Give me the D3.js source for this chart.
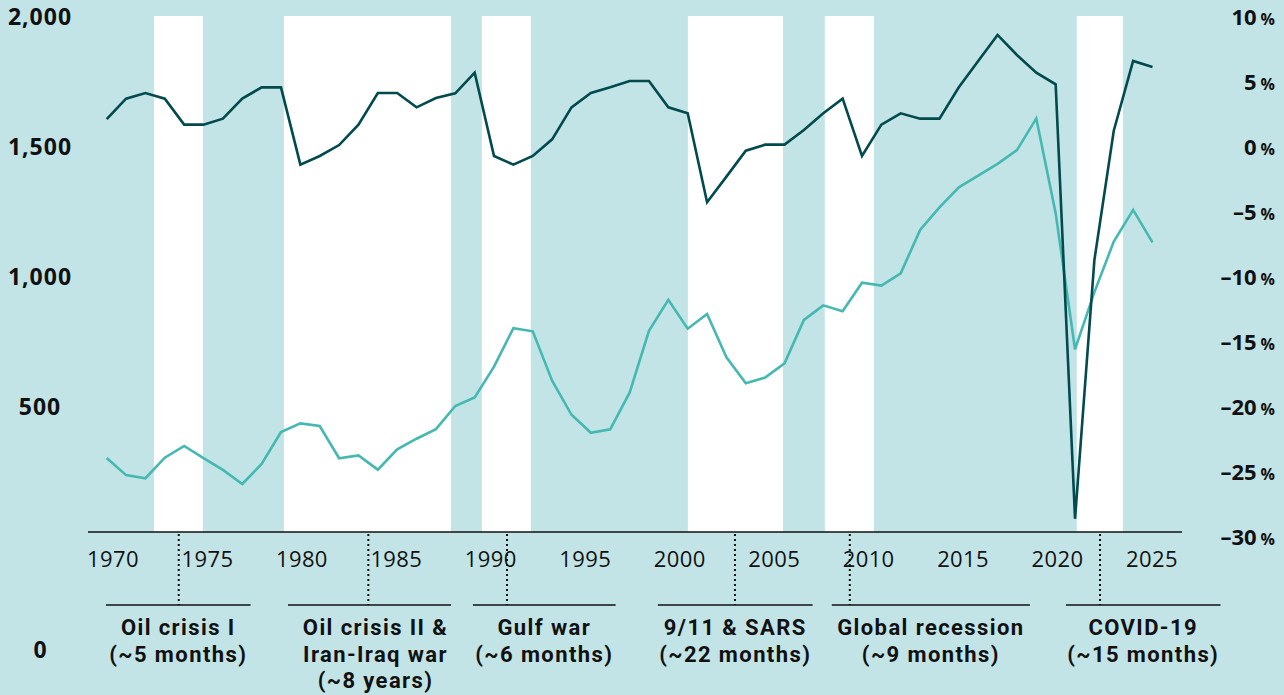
<!DOCTYPE html>
<html>
<head>
<meta charset="utf-8">
<script src="https://cdn.jsdelivr.net/npm/d3@7/dist/d3.min.js"></script>
<style>
  html, body { margin: 0; padding: 0; background: #c3e4e6; }
  svg { display: block; }
  text { font-family: "Open Sans", Lato, sans-serif; fill: #111; }
  text.event { font-family: Roboto, "Open Sans", sans-serif; }
</style>
</head>
<body>
<svg id="chart" width="1284" height="695"></svg>
<script>
// ---------- DATA ----------
const years = d3.range(1970, 2025);

// Growth rate (%), right axis – dark line
const growth = [
  2.15, 3.72, 4.15, 3.72, 1.72, 1.72, 2.18, 3.72, 4.59, 4.59,
  -1.36, -0.69, 0.15, 1.72, 4.15, 4.15, 3.05, 3.77, 4.13, 5.72,
  -0.69, -1.36, -0.69, 0.59, 3.05, 4.15, 4.59, 5.08, 5.08, 3.05,
  2.59, -4.25, -2.28, -0.28, 0.18, 0.18, 1.31, 2.59, 3.72, -0.69,
  1.72, 2.59, 2.18, 2.18, 4.59, 6.62, 8.62, 7.08, 5.72, 4.82,
  -28.6, -8.69, 1.25, 6.62, 6.15
];

// Level, left axis – light line
const level = [
  304, 238, 226, 305, 350, 303, 258, 204, 281, 404,
  437, 427, 303, 314, 259, 337, 378, 415, 504, 537,
  655, 803, 791, 601, 470, 401, 414, 555, 793, 912,
  801, 858, 691, 591, 613, 668, 835, 891, 868, 978,
  967, 1014, 1181, 1268, 1345, 1390, 1435, 1488, 1610, 1245,
  722, 942, 1136, 1258, 1133
];

// Tick labels
const xTickLabels = ["1970", "1975", "1980", "1985", "1990", "1995", "2000", "2005", "2010", "2015", "2020", "2025"];
const leftTicks = [2000, 1500, 1000, 500];
const leftZeroLabel = "0";
const rightTicks = [10, 5, 0, -5, -10, -15, -20, -25, -30];

// White periods (start year, end year)
const bandStart = [1972.44, 1979.15, 1989.37, 2000.01, 2007.08, 2020.09];
const bandEnd   = [1974.97, 1987.78, 1991.90, 2004.92, 2009.62, 2022.47];

// Events
const eventNames = [
  ["Oil crisis I", "(~5 months)"],
  ["Oil crisis II &", "Iran-Iraq war", "(~8 years)"],
  ["Gulf war", "(~6 months)"],
  ["9/11 & SARS", "(~22 months)"],
  ["Global recession", "(~9 months)"],
  ["COVID-19", "(~15 months)"]
];
const eventMark  = [1973.72, 1983.51, 1990.67, 2002.44, 2008.37, 2021.29];
const eventFrom  = [1969.96, 1979.36, 1988.91, 1998.46, 2007.44, 2019.53];
const eventTo    = [1977.43, 1987.78, 1996.28, 2006.45, 2017.67, 2027.51];

// ---------- CHART ----------
const svg = d3.select("#chart");
const W = 1284, H = 695;
const plotTop = 16, axisY = 532;

const x = d3.scaleLinear().domain([1970, 2024]).range([106.7, 1152.5]);
const yL = d3.scaleLinear().domain([0, 2000]).range([537, 17]);
const yR = d3.scaleLinear().domain([-30, 10]).range([537, 17]);
const xLab = d3.scalePoint().domain(xTickLabels).range([113, 1152]);

svg.append("rect").attr("width", W).attr("height", H).attr("fill", "#c3e4e6");

// white bands
svg.append("g").selectAll("rect")
  .data(bandStart.map((s, i) => [s, bandEnd[i]]))
  .join("rect")
  .attr("x", d => x(d[0]))
  .attr("width", d => x(d[1]) - x(d[0]))
  .attr("y", plotTop)
  .attr("height", axisY - plotTop)
  .attr("fill", "#ffffff");

// lines
const lineL = d3.line().x((d, i) => x(years[i])).y(d => yL(d));
const lineR = d3.line().x((d, i) => x(years[i])).y(d => yR(d));

svg.append("path").datum(level)
  .attr("d", lineL)
  .attr("fill", "none")
  .attr("stroke", "#45b9b1")
  .attr("stroke-width", 2.6)
  .attr("stroke-linejoin", "miter");

svg.append("path").datum(growth)
  .attr("d", lineR)
  .attr("fill", "none")
  .attr("stroke", "#014a4e")
  .attr("stroke-width", 2.6)
  .attr("stroke-linejoin", "miter");

// x axis baseline
svg.append("line")
  .attr("x1", 88).attr("x2", 1182)
  .attr("y1", axisY).attr("y2", axisY)
  .attr("stroke", "#111").attr("stroke-width", 1.4);

// x tick labels
svg.append("g").selectAll("text")
  .data(xTickLabels)
  .join("text")
  .attr("x", d => xLab(d))
  .attr("y", 567)
  .attr("text-anchor", "middle")
  .attr("font-size", 22)
  .attr("letter-spacing", 0.4)
  .attr("font-weight", 400)
  .text(d => d);

// left axis labels
svg.append("g").selectAll("text")
  .data(leftTicks)
  .join("text")
  .attr("x", 40)
  .attr("y", d => yL(d) + 8)
  .attr("text-anchor", "middle")
  .attr("font-size", 23)
  .attr("letter-spacing", 1)
  .attr("font-weight", 700)
  .text(d => d3.format(",")(d));

svg.append("text")
  .attr("x", 40).attr("y", 658)
  .attr("text-anchor", "middle")
  .attr("font-size", 23)
  .attr("font-weight", 700)
  .text(leftZeroLabel);

// right axis labels
const rt = svg.append("g").selectAll("text")
  .data(rightTicks)
  .join("text")
  .attr("x", 1275)
  .attr("y", d => yR(d) + 8)
  .attr("text-anchor", "end")
  .attr("font-size", 22)
  .attr("font-weight", 700);
rt.append("tspan").text(d => (d < 0 ? "\u2013" + Math.abs(d) : String(d)));
rt.append("tspan").attr("font-size", 16).attr("dx", 4).text("%");

// events
const ev = svg.append("g");
eventNames.forEach((lines, i) => {
  ev.append("line")
    .attr("x1", x(eventMark[i])).attr("x2", x(eventMark[i]))
    .attr("y1", axisY + 2).attr("y2", 605)
    .attr("stroke", "#111").attr("stroke-width", 2)
    .attr("stroke-dasharray", "2 3");
  ev.append("line")
    .attr("x1", x(eventFrom[i])).attr("x2", x(eventTo[i]))
    .attr("y1", 605).attr("y2", 605)
    .attr("stroke", "#111").attr("stroke-width", 1.4);
  const cx = (x(eventFrom[i]) + x(eventTo[i])) / 2 + (i === 1 ? 6 : 0);
  ev.append("g").selectAll("text")
    .data(lines)
    .join("text")
    .attr("class", "event")
    .attr("x", cx)
    .attr("y", (d, j) => 635 + j * 26.5)
    .attr("text-anchor", "middle")
    .attr("font-size", 22)
    .attr("letter-spacing", 1.4)
    .attr("font-weight", 700)
    .text(d => d);
});
</script>
</body>
</html>
